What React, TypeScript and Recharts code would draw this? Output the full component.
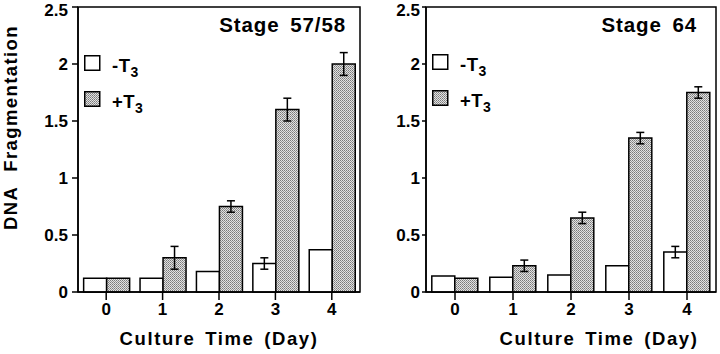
import React from 'react'
import { BarChart, Bar, XAxis, YAxis, ErrorBar, ReferenceArea, Legend } from 'recharts'

const DAYS = ['0', '1', '2', '3', '4']
const Y_TICKS = [0, 0.5, 1, 1.5, 2, 2.5]

// Stage 57/58
const S57_MINUS = [0.12, 0.12, 0.18, 0.25, 0.37]
const S57_MINUS_ERR = [null, null, null, 0.05, null]
const S57_PLUS = [0.12, 0.3, 0.75, 1.6, 2.0]
const S57_PLUS_ERR = [null, 0.1, 0.05, 0.1, 0.1]

// Stage 64
const S64_MINUS = [0.14, 0.13, 0.15, 0.23, 0.35]
const S64_MINUS_ERR = [null, null, null, null, 0.05]
const S64_PLUS = [0.12, 0.23, 0.65, 1.35, 1.75]
const S64_PLUS_ERR = [null, 0.05, 0.05, 0.05, 0.05]

const FONT = '"Liberation Sans", Arial, Helvetica, sans-serif'
const INK = '#000'

function LegendBox({ fill }: { fill: string }) {
  return (
    <svg width={120} height={60} style={{ display: 'block', overflow: 'visible' }}>
      <rect x={0.75} y={0.75} width={15} height={14.5} fill="#fff" stroke={INK} strokeWidth={1.5} />
      <text x={28} y={17} fontFamily={FONT} fontWeight={700} fontSize={18.5} letterSpacing={0.5} fill={INK}>
        -T<tspan dy={5} fontSize={14}>3</tspan>
      </text>
      <rect x={0.75} y={36.75} width={15} height={14.5} fill={fill} stroke={INK} strokeWidth={1.5} />
      <text x={28} y={53} fontFamily={FONT} fontWeight={700} fontSize={18.5} letterSpacing={0.5} fill={INK}>
        +T<tspan dy={5} fontSize={14}>3</tspan>
      </text>
    </svg>
  )
}

type PanelProps = {
  id: string
  title: string
  minus: number[]
  minusErr: (number | null)[]
  plus: number[]
  plusErr: (number | null)[]
  width: number
  yAxisWidth: number
  yTickSize: number
  yTickMargin: number
  showYLabel: boolean
  titleInset: number
  labelDx: number
  legendLeft: number
  legendTop: number
}

function Panel(p: PanelProps) {
  const data = DAYS.map((day, i) => ({
    day,
    minus: p.minus[i],
    minusErr: p.minusErr[i],
    plus: p.plus[i],
    plusErr: p.plusErr[i],
  }))
  const pat = `stipple-${p.id}`

  return (
    <BarChart
      width={p.width}
      height={354}
      data={data}
      margin={{ top: 7, right: 4, left: 0, bottom: 0 }}
      barCategoryGap="10%"
      barGap={0}
    >
      <defs>
        <pattern id={pat} width={2} height={2} patternUnits="userSpaceOnUse">
          <rect width={2} height={2} fill="#e2e2e2" />
          <rect width={1} height={1} fill="#7a7a7a" />
          <rect x={1} y={1} width={1} height={1} fill="#959595" />
        </pattern>
      </defs>
      <ReferenceArea
        y1={0}
        y2={2.5}
        fill="none"
        stroke={INK}
        strokeWidth={1.5}
        ifOverflow="visible"
        label={(lp: any) => {
          const vb = lp.viewBox
          return (
            <text
              x={vb.x + vb.width - p.titleInset}
              y={vb.y + 25}
              textAnchor="end"
              fontFamily={FONT}
              fontWeight={700}
              fontSize={20.5}
              letterSpacing={0.9}
              wordSpacing={4}
              fill={INK}
            >
              {p.title}
            </text>
          )
        }}
      />
      <XAxis
        dataKey="day"
        height={62}
        interval={0}
        axisLine={{ stroke: INK, strokeWidth: 1.5 }}
        tickLine={{ stroke: INK, strokeWidth: 1.5 }}
        tickSize={8}
        tickMargin={3}
        tick={{ fill: INK, fontSize: 17, fontWeight: 700, fontFamily: FONT }}
        label={(lp: any) => {
          const vb = lp.viewBox
          return (
            <text
              x={vb.x + vb.width / 2 + p.labelDx}
              y={vb.y + 53}
              textAnchor="middle"
              fontFamily={FONT}
              fontWeight={700}
              fontSize={18.5}
              letterSpacing={1.6}
              wordSpacing={3}
              fill={INK}
            >
              Culture Time (Day)
            </text>
          )
        }}
      />
      <YAxis
        domain={[0, 2.5]}
        ticks={Y_TICKS}
        width={p.yAxisWidth}
        axisLine={{ stroke: INK, strokeWidth: 1.5 }}
        tickLine={{ stroke: INK, strokeWidth: 1.5 }}
        tickSize={p.yTickSize}
        tickMargin={p.yTickMargin}
        tick={{ fill: INK, fontSize: 17, fontWeight: 700, fontFamily: FONT }}
        label={
          p.showYLabel
            ? (lp: any) => {
                const vb = lp.viewBox
                return (
                  <text
                    transform={`translate(17,${vb.y + vb.height / 2 - 22}) rotate(-90)`}
                    textAnchor="middle"
                    fontFamily={FONT}
                    fontWeight={700}
                    fontSize={18.5}
                    letterSpacing={1.4}
                    wordSpacing={8}
                    fill={INK}
                  >
                    DNA Fragmentation
                  </text>
                )
              }
            : undefined
        }
      />
      <Bar dataKey="minus" name="-T3" fill="#fff" stroke={INK} strokeWidth={1.5} isAnimationActive={false}>
        <ErrorBar dataKey="minusErr" width={4} stroke={INK} strokeWidth={1.5} />
      </Bar>
      <Bar dataKey="plus" name="+T3" fill={`url(#${pat})`} stroke={INK} strokeWidth={1.5} isAnimationActive={false}>
        <ErrorBar dataKey="plusErr" width={4} stroke={INK} strokeWidth={1.5} />
      </Bar>
      <Legend
        layout="vertical"
        align="center"
        verticalAlign="middle"
        wrapperStyle={{ left: p.legendLeft, top: p.legendTop, width: 'auto', height: 'auto' }}
        content={() => <LegendBox fill={`url(#${pat})`} />}
      />
    </BarChart>
  )
}

export default function App() {
  return (
    <div style={{ position: 'absolute', left: 0, top: 0, width: 720, height: 354, background: '#fff' }}>
      <div style={{ position: 'absolute', left: 0, top: 0 }}>
        <Panel
          id="a"
          title="Stage 57/58"
          minus={S57_MINUS}
          minusErr={S57_MINUS_ERR}
          plus={S57_PLUS}
          plusErr={S57_PLUS_ERR}
          width={364}
          yAxisWidth={78}
          yTickSize={6}
          yTickMargin={4}
          showYLabel
          titleInset={14}
          labelDx={0}
          legendLeft={84}
          legendTop={55}
        />
      </div>
      <div style={{ position: 'absolute', left: 360, top: 0 }}>
        <Panel
          id="b"
          title="Stage 64"
          minus={S64_MINUS}
          minusErr={S64_MINUS_ERR}
          plus={S64_PLUS}
          plusErr={S64_PLUS_ERR}
          width={360}
          yAxisWidth={66}
          yTickSize={4}
          yTickMargin={2}
          showYLabel={false}
          titleInset={19}
          labelDx={28}
          legendLeft={72}
          legendTop={54}
        />
      </div>
    </div>
  )
}
